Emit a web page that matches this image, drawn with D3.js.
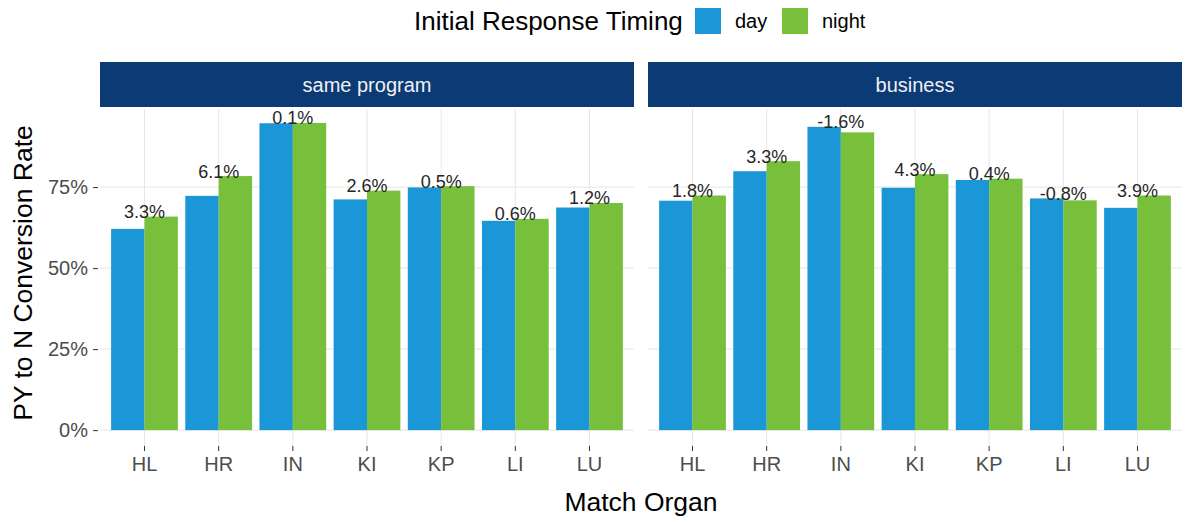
<!doctype html>
<html>
<head>
<script src="https://d3js.org/d3.v7.min.js"></script>
<style>
  body { margin: 0; background: #fff; }
  svg text { font-family: "Liberation Sans", Arial, sans-serif; }
</style>
</head>
<body>
<div class="graph"></div>
<script>
// values (percent)
var organs = ['HL', 'HR', 'IN', 'KI', 'KP', 'LI', 'LU'];
var timings = ['day', 'night'];
var panels = ['same program', 'business'];

var samePgmDay   = [62.1, 72.3, 94.7, 71.2, 74.9, 64.6, 68.7];
var samePgmNight = [65.9, 78.4, 94.8, 73.9, 75.3, 65.2, 70.1];
var samePgmLabels = ['3.3%', '6.1%', '0.1%', '2.6%', '0.5%', '0.6%', '1.2%'];

var businessDay   = [70.8, 79.9, 93.6, 74.8, 77.2, 71.5, 68.6];
var businessNight = [72.4, 83.0, 91.9, 79.0, 77.6, 70.9, 72.4];
var businessLabels = ['1.8%', '3.3%', '-1.6%', '4.3%', '0.4%', '-0.8%', '3.9%'];

var yTicks = [0, 25, 50, 75];

var colors = { day: '#1b97d7', night: '#78bf3c' };

var width = 1196, height = 522;

var svg = d3.select('.graph')
  .append('svg')
  .attr('width', width)
  .attr('height', height);

var panelData = [
  { name: panels[0], day: samePgmDay, night: samePgmNight, labels: samePgmLabels, x0: 100, x1: 634 },
  { name: panels[1], day: businessDay, night: businessNight, labels: businessLabels, x0: 648, x1: 1182 }
];

var y = d3.scaleLinear()
  .domain([-4.9, 99.1])
  .range([446, 109]);

panelData.forEach(function(p, pi) {
  var x = d3.scaleBand()
    .domain(organs)
    .range([p.x0, p.x1])
    .paddingInner(0.1)
    .paddingOuter(0.15);

  var xSub = d3.scaleBand()
    .domain(timings)
    .range([0, x.bandwidth()]);

  var g = svg.append('g').attr('class', 'panel');

  // grid lines
  g.selectAll('.hgrid')
    .data(yTicks)
    .enter().append('line')
    .attr('x1', p.x0).attr('x2', p.x1)
    .attr('y1', function(d) { return y(d); })
    .attr('y2', function(d) { return y(d); })
    .style('stroke', '#e6e6e6')
    .style('stroke-width', 1);

  g.selectAll('.vgrid')
    .data(organs)
    .enter().append('line')
    .attr('x1', function(d) { return x(d) + x.bandwidth() / 2; })
    .attr('x2', function(d) { return x(d) + x.bandwidth() / 2; })
    .attr('y1', 109).attr('y2', 446)
    .style('stroke', '#e6e6e6')
    .style('stroke-width', 1);

  // strip
  svg.append('rect')
    .attr('x', p.x0).attr('y', 62)
    .attr('width', p.x1 - p.x0).attr('height', 45)
    .style('fill', '#0c3a74');

  svg.append('text')
    .attr('x', (p.x0 + p.x1) / 2).attr('y', 92)
    .attr('text-anchor', 'middle')
    .style('font-size', '20px')
    .style('fill', '#eef1f5')
    .text(p.name);

  // bars
  var rows = [];
  organs.forEach(function(o, i) {
    timings.forEach(function(t) {
      rows.push({ organ: o, timing: t, value: p[t][i] });
    });
  });

  g.selectAll('.bar')
    .data(rows)
    .enter().append('rect')
    .attr('x', function(d) { return x(d.organ) + xSub(d.timing); })
    .attr('y', function(d) { return y(d.value); })
    .attr('width', xSub.bandwidth())
    .attr('height', function(d) { return y(0) - y(d.value); })
    .style('fill', function(d) { return colors[d.timing]; });

  // difference labels
  g.selectAll('.lab')
    .data(organs)
    .enter().append('text')
    .attr('x', function(d) { return x(d) + x.bandwidth() / 2; })
    .attr('y', function(d, i) { return y(Math.max(p.day[i], p.night[i])) + 1.5; })
    .attr('text-anchor', 'middle')
    .style('font-size', '18px')
    .style('fill', '#262626')
    .text(function(d, i) { return p.labels[i]; });

  // x axis
  var xa = svg.append('g')
    .attr('transform', 'translate(0,446)')
    .call(d3.axisBottom(x).tickSize(5).tickPadding(6));
  xa.select('.domain').remove();
  xa.selectAll('line').style('stroke', '#333');
  xa.selectAll('text')
    .style('font-size', '20px')
    .style('fill', '#4d4d4d')
    .style('font-family', '"Liberation Sans", Arial, sans-serif');

  if (pi === 0) {
    var ya = svg.append('g')
      .attr('transform', 'translate(' + (p.x0 - 2) + ',0)')
      .call(d3.axisLeft(y).tickValues(yTicks).tickSize(5).tickPadding(5)
        .tickFormat(function(d) { return d + '%'; }));
    ya.select('.domain').remove();
    ya.selectAll('line').style('stroke', '#333');
    ya.selectAll('text')
      .style('font-size', '20px')
      .style('fill', '#4d4d4d')
      .style('font-family', '"Liberation Sans", Arial, sans-serif');
  }
});

// axis titles
svg.append('text')
  .attr('transform', 'translate(32,273) rotate(-90)')
  .attr('text-anchor', 'middle')
  .style('font-size', '26.5px')
  .style('fill', '#000')
  .text('PY to N Conversion Rate');

svg.append('text')
  .attr('x', 641).attr('y', 511)
  .attr('text-anchor', 'middle')
  .style('font-size', '26.5px')
  .style('fill', '#000')
  .text('Match Organ');

// legend
var legend = svg.append('g').attr('class', 'legend');
legend.append('text')
  .attr('x', 414).attr('y', 30)
  .style('font-size', '26px')
  .style('fill', '#000')
  .text('Initial Response Timing');

var legX = [695, 782];
timings.forEach(function(t, i) {
  legend.append('rect')
    .attr('x', legX[i]).attr('y', 8)
    .attr('width', 26).attr('height', 26)
    .style('fill', colors[t]);
  legend.append('text')
    .attr('x', legX[i] + 40).attr('y', 28)
    .style('font-size', '20px')
    .style('fill', '#000')
    .text(t);
});
</script>
</body>
</html>
